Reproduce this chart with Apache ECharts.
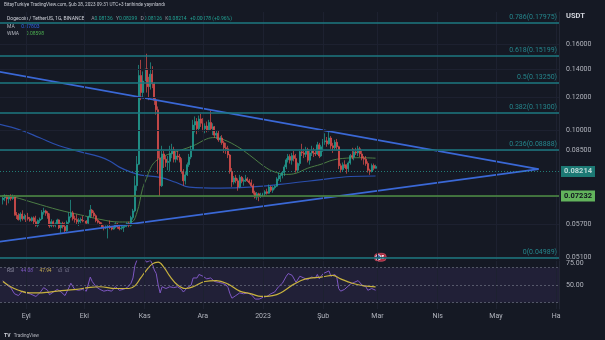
<!DOCTYPE html>
<html>
<head>
<meta charset="utf-8">
<script src="https://cdn.jsdelivr.net/npm/echarts@6/dist/echarts.min.js"></script>
<style>
  html, body { margin: 0; padding: 0; background: #151924; }
  #c { width: 605px; height: 340px; }
</style>
</head>
<body>
<div id="c"></div>
<script>
// DOGE / USDT daily candles, 20 Aug 2022 .. 28 Feb 2023 (one entry per day)
const firstDay = '2022-08-20';
const opens = [
  // Aug 20-31
  0.0685,0.0692,0.0700,0.0688,0.0696,0.0690,0.0697,0.0633,0.0630,0.0615,0.0634,0.0618,
  // Sep
  0.0626,0.0623,0.0618,0.0612,0.0621,0.0608,0.0596,0.0612,0.0617,0.0640,0.0645,0.0637,0.0626,0.0594,0.0608,
  0.0596,0.0601,0.0614,0.0588,0.0603,0.0592,0.0579,0.0606,0.0625,0.0638,0.0618,0.0615,0.0608,0.0614,0.0615,
  // Oct
  0.0612,0.0610,0.0603,0.0624,0.0648,0.0638,0.0628,0.0612,0.0606,0.0600,0.0590,0.0588,0.0591,0.0593,0.0589,
  0.0584,0.0590,0.0601,0.0591,0.0585,0.0587,0.0592,0.0596,0.0602,0.0596,0.0622,0.0645,0.0740,0.0832,0.1350,0.1230,
  // Nov
  0.1310,0.1400,0.1290,0.1270,0.1360,0.1290,0.1180,0.1120,0.0860,0.0740,0.0880,0.0855,0.0840,0.0845,0.0880,
  0.0900,0.0855,0.0870,0.0865,0.0850,0.0800,0.0760,0.0785,0.0830,0.0865,0.0900,0.1030,0.1050,0.1010,0.1065,
  // Dec
  0.1040,0.1010,0.1025,0.1000,0.1045,0.1010,0.1020,0.0975,0.0985,0.0950,0.0960,0.0935,0.0910,0.0905,0.0875,
  0.0800,0.0755,0.0772,0.0760,0.0735,0.0775,0.0758,0.0762,0.0768,0.0760,0.0752,0.0740,0.0712,0.0695,0.0708,0.0700,
  // Jan
  0.0702,0.0708,0.0716,0.0710,0.0735,0.0722,0.0732,0.0738,0.0768,0.0778,0.0782,0.0795,0.0820,0.0852,0.0868,
  0.0850,0.0872,0.0858,0.0805,0.0835,0.0890,0.0885,0.0878,0.0900,0.0850,0.0885,0.0895,0.0885,0.0880,0.0925,0.0870,
  // Feb
  0.0915,0.0940,0.0945,0.0930,0.0960,0.0920,0.0910,0.0938,0.0915,0.0825,0.0808,0.0830,0.0825,0.0812,
  0.0838,0.0872,0.0865,0.0890,0.0885,0.0905,0.0880,0.0860,0.0855,0.0835,0.0805,0.0800,0.0826,0.08136
];
const highs = [
  0.0702,0.0706,0.0704,0.0703,0.0706,0.0705,0.0702,0.0641,0.0637,0.0640,0.0647,0.0635,
  0.0631,0.0638,0.0624,0.0625,0.0626,0.0628,0.0616,0.0622,0.0648,0.0656,0.0649,0.0644,0.0636,0.0616,0.0612,
  0.0606,0.0618,0.0616,0.0605,0.0608,0.0606,0.0612,0.0640,0.0685,0.0645,0.0628,0.0633,0.0620,0.0622,0.0627,
  0.0616,0.0613,0.0628,0.0666,0.0652,0.0646,0.0633,0.0617,0.0610,0.0606,0.0596,0.0596,0.0598,0.0612,0.0592,
  0.0594,0.0606,0.0604,0.0594,0.0596,0.0594,0.0600,0.0606,0.0608,0.0628,0.0652,0.0780,0.0870,0.1430,0.1470,0.1380,
  0.1595,0.1520,0.1340,0.1450,0.1420,0.1300,0.1200,0.1140,0.0895,0.0920,0.0900,0.0870,0.0870,0.0920,0.0930,
  0.0915,0.0890,0.0900,0.0880,0.0860,0.0810,0.0800,0.0840,0.0880,0.0920,0.1060,0.1080,0.1070,0.1085,0.1095,
  0.1070,0.1040,0.1050,0.1060,0.1115,0.1040,0.1025,0.1000,0.1000,0.0970,0.0975,0.0945,0.0935,0.0920,0.0880,
  0.0815,0.0780,0.0785,0.0770,0.0785,0.0780,0.0770,0.0785,0.0775,0.0768,0.0765,0.0748,0.0720,0.0715,0.0712,0.0712,
  0.0712,0.0722,0.0728,0.0745,0.0740,0.0738,0.0742,0.0775,0.0795,0.0790,0.0800,0.0830,0.0860,0.0880,0.0878,
  0.0885,0.0895,0.0880,0.0840,0.0900,0.0930,0.0905,0.0915,0.0910,0.0895,0.0920,0.0910,0.0900,0.0940,0.0935,0.0925,
  0.0955,0.0985,0.0965,0.1000,0.0970,0.0935,0.0950,0.0955,0.0920,0.0835,0.0840,0.0850,0.0832,0.0845,
  0.0880,0.0910,0.0905,0.0910,0.0920,0.0915,0.0895,0.0870,0.0870,0.0845,0.0812,0.0835,0.0835,0.08299
];
const lows = [
  0.0668,0.0680,0.0665,0.0672,0.0682,0.0685,0.0628,0.0617,0.0612,0.0608,0.0612,0.0615,
  0.0607,0.0612,0.0608,0.0608,0.0600,0.0592,0.0590,0.0604,0.0614,0.0632,0.0628,0.0618,0.0588,0.0590,0.0590,
  0.0590,0.0598,0.0584,0.0572,0.0586,0.0574,0.0576,0.0598,0.0620,0.0612,0.0605,0.0600,0.0594,0.0603,0.0606,
  0.0604,0.0598,0.0600,0.0620,0.0625,0.0622,0.0606,0.0602,0.0596,0.0586,0.0580,0.0584,0.0555,0.0584,0.0580,
  0.0582,0.0587,0.0585,0.0580,0.0582,0.0575,0.0588,0.0590,0.0590,0.0592,0.0615,0.0640,0.0720,0.0828,0.1180,0.1200,
  0.1280,0.1230,0.1180,0.1250,0.1260,0.1150,0.1090,0.0790,0.0700,0.0735,0.0815,0.0820,0.0805,0.0800,0.0860,
  0.0840,0.0840,0.0850,0.0840,0.0790,0.0740,0.0745,0.0780,0.0820,0.0855,0.0895,0.0990,0.0980,0.0995,0.1020,
  0.0995,0.0985,0.0990,0.0995,0.1000,0.0975,0.0960,0.0955,0.0940,0.0935,0.0925,0.0885,0.0880,0.0860,0.0790,
  0.0735,0.0745,0.0750,0.0720,0.0730,0.0750,0.0740,0.0755,0.0755,0.0745,0.0735,0.0705,0.0690,0.0685,0.0680,0.0692,
  0.0695,0.0700,0.0705,0.0708,0.0715,0.0712,0.0725,0.0735,0.0760,0.0755,0.0770,0.0780,0.0810,0.0840,0.0835,
  0.0830,0.0845,0.0795,0.0800,0.0825,0.0870,0.0860,0.0865,0.0840,0.0830,0.0870,0.0865,0.0870,0.0875,0.0860,0.0865,
  0.0890,0.0925,0.0915,0.0925,0.0905,0.0885,0.0900,0.0900,0.0810,0.0795,0.0800,0.0815,0.0790,0.0800,
  0.0830,0.0855,0.0850,0.0875,0.0870,0.0865,0.0850,0.0830,0.0825,0.0795,0.0785,0.0795,0.0805,0.08126
];
const closes = [
  0.0692,0.0700,0.0688,0.0696,0.0690,0.0697,0.0633,0.0630,0.0615,0.0634,0.0618,0.0626,
  0.0623,0.0618,0.0612,0.0621,0.0608,0.0596,0.0612,0.0617,0.0640,0.0645,0.0637,0.0626,0.0594,0.0608,0.0596,
  0.0601,0.0614,0.0588,0.0603,0.0592,0.0579,0.0606,0.0625,0.0638,0.0618,0.0615,0.0608,0.0614,0.0615,0.0612,
  0.0610,0.0603,0.0624,0.0648,0.0638,0.0628,0.0612,0.0606,0.0600,0.0590,0.0588,0.0591,0.0593,0.0589,0.0584,
  0.0590,0.0601,0.0591,0.0585,0.0587,0.0592,0.0596,0.0602,0.0596,0.0622,0.0645,0.0740,0.0832,0.1350,0.1230,0.1310,
  0.1400,0.1290,0.1270,0.1360,0.1290,0.1180,0.1120,0.0860,0.0740,0.0880,0.0855,0.0840,0.0845,0.0880,0.0900,
  0.0855,0.0870,0.0865,0.0850,0.0800,0.0760,0.0785,0.0830,0.0865,0.0900,0.1030,0.1050,0.1010,0.1065,0.1040,
  0.1010,0.1025,0.1000,0.1045,0.1010,0.1020,0.0975,0.0985,0.0950,0.0960,0.0935,0.0910,0.0905,0.0875,0.0800,
  0.0755,0.0772,0.0760,0.0735,0.0775,0.0758,0.0762,0.0768,0.0760,0.0752,0.0740,0.0712,0.0695,0.0708,0.0700,0.0702,
  0.0708,0.0716,0.0710,0.0735,0.0722,0.0732,0.0738,0.0768,0.0778,0.0782,0.0795,0.0820,0.0852,0.0868,0.0850,
  0.0872,0.0858,0.0805,0.0835,0.0890,0.0885,0.0878,0.0900,0.0850,0.0885,0.0895,0.0885,0.0880,0.0925,0.0870,0.0915,
  0.0940,0.0945,0.0930,0.0960,0.0920,0.0910,0.0938,0.0915,0.0825,0.0808,0.0830,0.0825,0.0812,0.0838,
  0.0872,0.0865,0.0890,0.0885,0.0905,0.0880,0.0860,0.0855,0.0835,0.0805,0.0800,0.0826,0.08136,0.08214
];

// Moving averages on the price pane
const maLine = [
  ['2022-08-18',0.1035],['2022-08-29',0.1003],['2022-09-08',0.0961],['2022-09-18',0.0920],
  ['2022-09-29',0.0890],['2022-10-09',0.0866],['2022-10-14',0.0847],['2022-10-19',0.0819],
  ['2022-10-25',0.0797],['2022-10-30',0.0784],['2022-11-09',0.0774],['2022-11-17',0.0754],
  ['2022-11-24',0.0734],['2022-12-10',0.0730],['2022-12-25',0.0734],['2023-01-15',0.0750],
  ['2023-01-31',0.0765],['2023-02-15',0.0778],['2023-02-28',0.07803]
];
const wmaLine = [
  ['2022-08-20',0.0702],['2022-08-26',0.0695],['2022-09-05',0.0674],['2022-09-18',0.0648],
  ['2022-09-29',0.0631],['2022-10-09',0.0616],['2022-10-19',0.0607],['2022-10-25',0.0607],
  ['2022-10-28',0.0638],['2022-10-31',0.0730],['2022-11-02',0.0770],['2022-11-04',0.0813],
  ['2022-11-06',0.0840],['2022-11-09',0.0860],['2022-11-14',0.0881],['2022-11-26',0.0920],
  ['2022-12-03',0.0955],['2022-12-07',0.0962],['2022-12-12',0.0950],['2022-12-19',0.0915],
  ['2022-12-25',0.0875],['2023-01-03',0.0814],['2023-01-08',0.0795],['2023-01-13',0.0787],
  ['2023-01-18',0.0792],['2023-01-24',0.0814],['2023-01-31',0.0832],['2023-02-06',0.0851],
  ['2023-02-13',0.0860],['2023-02-20',0.0862],['2023-02-28',0.08598]
];

// Symmetrical triangle trendlines
const upperTrend = [['2022-08-18',0.1378],['2023-05-23',0.0810]];
const lowerTrend = [['2022-08-18',0.0545],['2023-05-23',0.0810]];

// Fibonacci retracement levels and the horizontal support
const fibRatios = ['0.786','0.618','0.5','0.382','0.236','0'];
const fibPrices = [0.17975,0.15199,0.13250,0.11300,0.08888,0.04989];
const supportLevel = 0.07232;

// Axis ticks
const priceTicks = [0.16,0.14,0.12,0.10,0.085,0.075,0.065,0.057,0.051];
const rsiTicks = [50,75];
const monthStarts = ['2022-09-01','2022-10-01','2022-11-01','2022-12-01','2023-01-01',
                     '2023-02-01','2023-03-01','2023-04-01','2023-05-01','2023-06-01'];
const monthNames = ['Eyl','Eki','Kas','Ara','2023','Şub','Mar','Nis','May','Ha'];

// RSI (14) and its moving average
const rsiLine = [
  ['2022-08-20',55],['2022-08-22',50],['2022-08-24',47],['2022-08-26',40],['2022-08-28',38],
  ['2022-08-30',43],['2022-09-01',41],['2022-09-03',40],['2022-09-06',37],['2022-09-08',41],
  ['2022-09-10',47],['2022-09-12',44],['2022-09-13',39],['2022-09-15',42],['2022-09-17',45],
  ['2022-09-19',42],['2022-09-21',38],['2022-09-23',47],['2022-09-24',52],['2022-09-26',45],
  ['2022-09-28',44],['2022-09-30',45],['2022-10-02',43],['2022-10-04',59],['2022-10-05',54],
  ['2022-10-07',48],['2022-10-09',45],['2022-10-11',43],['2022-10-13',44],['2022-10-15',43],
  ['2022-10-17',48],['2022-10-19',44],['2022-10-21',45],['2022-10-23',47],['2022-10-25',52],
  ['2022-10-26',58],['2022-10-27',72],['2022-10-28',78],['2022-10-29',84],['2022-10-30',79],
  ['2022-11-01',80],['2022-11-02',76],['2022-11-04',78],['2022-11-05',74],['2022-11-06',67],
  ['2022-11-07',63],['2022-11-08',50],['2022-11-09',41],['2022-11-10',48],['2022-11-12',46],
  ['2022-11-14',48],['2022-11-16',47],['2022-11-18',48],['2022-11-20',45],['2022-11-21',42],
  ['2022-11-23',47],['2022-11-25',50],['2022-11-26',58],['2022-11-28',58],['2022-11-29',62],
  ['2022-12-01',60],['2022-12-03',57],['2022-12-05',58],['2022-12-07',54],['2022-12-09',53],
  ['2022-12-11',52],['2022-12-13',50],['2022-12-14',47],['2022-12-15',40],['2022-12-16',35],
  ['2022-12-18',38],['2022-12-20',41],['2022-12-22',40],['2022-12-24',41],['2022-12-26',39],
  ['2022-12-28',34],['2022-12-30',34],['2023-01-01',36],['2023-01-03',37],['2023-01-05',40],
  ['2023-01-07',42],['2023-01-09',48],['2023-01-11',52],['2023-01-13',60],['2023-01-14',63],
  ['2023-01-16',61],['2023-01-18',53],['2023-01-20',60],['2023-01-22',58],['2023-01-24',56],
  ['2023-01-26',59],['2023-01-28',58],['2023-01-29',62],['2023-01-30',57],['2023-02-01',63],
  ['2023-02-02',64],['2023-02-04',66],['2023-02-05',60],['2023-02-07',62],['2023-02-08',59],
  ['2023-02-09',46],['2023-02-10',43],['2023-02-12',45],['2023-02-13',43],['2023-02-15',51],
  ['2023-02-17',53],['2023-02-19',55],['2023-02-21',50],['2023-02-23',48],['2023-02-24',44],
  ['2023-02-25',43],['2023-02-26',46],['2023-02-28',44.08]
];
const rsiMaLine = [
  ['2022-08-20',54],['2022-08-24',48],['2022-08-28',44],['2022-09-03',41],['2022-09-07',41],
  ['2022-09-13',42],['2022-09-21',44],['2022-09-27',45],['2022-10-03',47],['2022-10-09',48],
  ['2022-10-17',46],['2022-10-24',46],['2022-10-27',49],['2022-10-30',58],['2022-11-02',67],
  ['2022-11-05',74],['2022-11-08',76],['2022-11-11',70],['2022-11-14',60],['2022-11-18',50],
  ['2022-11-22',46],['2022-11-26',48],['2022-12-02',54],['2022-12-08',55],['2022-12-14',51],
  ['2022-12-20',43],['2022-12-26',40],['2022-12-31',37],['2023-01-06',38],['2023-01-10',41],
  ['2023-01-17',51],['2023-01-23',57],['2023-01-31',59],['2023-02-06',61],['2023-02-10',57],
  ['2023-02-16',52],['2023-02-22',49],['2023-02-28',47.94]
];

// ---------------------------------------------------------------------------
const DAY = 86400000;
const toTime = s => { const p = s.split('-').map(Number); return Date.UTC(p[0], p[1] - 1, p[2]); };
const t0 = toTime(firstDay);
const candleData = closes.map((c, i) => [t0 + i * DAY, opens[i], c, lows[i], highs[i]]);
const pairs = arr => arr.map(p => [toTime(p[0]), p[1]]);
const monthTimes = monthStarts.map(toTime);
const xMin = Date.UTC(2022, 7, 18, 12);
const xMax = Date.UTC(2023, 5, 2, 12);

const UP = '#22a193', DOWN = '#e0504e';
const FIB = '#1c7880', GRID = '#1d2130', TXT = '#b2b5be';
const FONT = 'Roboto, "Noto Sans", sans-serif';

const last = closes.length - 1;
const lastClose = closes[last];
const change = lastClose - closes[last - 1];
const changePct = change / closes[last - 1] * 100;
const valColor = lastClose >= opens[last] ? UP : DOWN;
const sign = v => (v >= 0 ? '+' : '');

// price pane: horizontal grid lines with the price scale, month grid lines, fibonacci levels
const refLines = [];
priceTicks.forEach(v => refLines.push({
  yAxis: v,
  lineStyle: { color: GRID, width: 1, type: 'solid' },
  label: { show: true, position: 'end', distance: 7, formatter: v.toFixed(5),
           color: TXT, fontSize: 7, fontFamily: FONT }
}));
monthTimes.forEach(t => refLines.push({
  xAxis: t, lineStyle: { color: GRID, width: 1, type: 'solid' }, label: { show: false }
}));
fibPrices.forEach((v, i) => refLines.push({
  yAxis: v,
  lineStyle: { color: FIB, width: 1.6, type: 'solid' },
  label: { show: true, position: 'insideEndTop', distance: [2, 2],
           formatter: fibRatios[i] + '(' + v.toFixed(5) + ')',
           color: '#25868c', fontSize: 7, fontFamily: FONT }
}));

// RSI pane: month grid lines carrying the time scale, plus the RSI scale labels
const monthLines = monthTimes.map((t, i) => ({
  xAxis: t,
  lineStyle: { color: GRID, width: 1, type: 'solid' },
  label: { show: true, position: 'start', distance: 4, formatter: monthNames[i],
           color: TXT, fontSize: 7, fontFamily: FONT }
}));
const rsiScale = rsiTicks.map(v => ({
  yAxis: v, lineStyle: { color: 'rgba(0,0,0,0)', width: 0 },
  label: { show: true, position: 'end', distance: 7, formatter: v.toFixed(2),
           color: TXT, fontSize: 7, fontFamily: FONT }
}));

const option = {
  backgroundColor: '#151924',
  animation: false,
  grid: [
    { left: 0, right: 46, top: 12, height: 248 },
    { left: 0, right: 46, top: 261, height: 48 }
  ],
  xAxis: [
    { type: 'time', gridIndex: 0, min: xMin, max: xMax, axisLine: { show: false },
      axisTick: { show: false }, axisLabel: { show: false }, splitLine: { show: false } },
    { type: 'time', gridIndex: 1, min: xMin, max: xMax, axisLine: { show: false },
      axisTick: { show: false }, axisLabel: { show: false }, splitLine: { show: false } }
  ],
  yAxis: [
    { type: 'log', gridIndex: 0, position: 'right', min: 0.04934, max: 0.19087,
      axisLine: { show: true, lineStyle: { color: '#232735' } },
      axisTick: { show: false }, axisLabel: { show: false }, splitLine: { show: false } },
    { type: 'value', gridIndex: 1, position: 'right', min: 22.73, max: 77.27,
      axisLine: { show: true, lineStyle: { color: '#232735' } },
      axisTick: { show: false }, axisLabel: { show: false }, splitLine: { show: false } }
  ],
  series: [
    { type: 'line', xAxisIndex: 0, yAxisIndex: 0, data: [], z: 1, silent: true,
      markLine: { symbol: ['none', 'none'], silent: true, animation: false, data: refLines } },
    { type: 'line', xAxisIndex: 1, yAxisIndex: 1, data: [], z: 1, silent: true,
      markLine: { symbol: ['none', 'none'], silent: true, animation: false,
                  data: monthLines.concat(rsiScale) } },
    { type: 'line', name: 'MA', xAxisIndex: 0, yAxisIndex: 0, data: pairs(maLine),
      showSymbol: false, smooth: 0.4, z: 2, silent: true, lineStyle: { color: '#2b4fae', width: 1.2 } },
    { type: 'line', name: 'WMA', xAxisIndex: 0, yAxisIndex: 0, data: pairs(wmaLine),
      showSymbol: false, smooth: 0.4, z: 2, silent: true, lineStyle: { color: '#4c7d45', width: 1 } },
    { type: 'line', xAxisIndex: 0, yAxisIndex: 0, data: pairs(upperTrend),
      showSymbol: false, z: 4, silent: true, lineStyle: { color: '#3a68d6', width: 1.6 } },
    { type: 'line', xAxisIndex: 0, yAxisIndex: 0, data: pairs(lowerTrend),
      showSymbol: false, z: 4, silent: true, lineStyle: { color: '#3a68d6', width: 1.6 } },
    { type: 'candlestick', name: 'DOGEUSDT', xAxisIndex: 0, yAxisIndex: 0,
      data: candleData, encode: { x: 0, y: [1, 2, 3, 4] }, barWidth: 1.5, z: 3,
      itemStyle: { color: UP, color0: DOWN, borderColor: UP, borderColor0: DOWN, borderWidth: 0.7 },
      markLine: {
        symbol: ['none', 'none'], silent: true, animation: false,
        data: [
          { yAxis: supportLevel,
            lineStyle: { color: '#4f8f44', width: 1.6, type: 'solid' },
            label: { show: true, position: 'end', distance: 2, formatter: supportLevel.toFixed(5),
                     backgroundColor: '#62b35c', color: '#11151f', padding: [2, 3, 1, 3],
                     fontSize: 7.5, fontWeight: 'bold', fontFamily: FONT } },
          { yAxis: lastClose,
            lineStyle: { color: '#26a69a', width: 1, type: [1, 2], opacity: 0.7 },
            label: { show: true, position: 'end', distance: 2, formatter: lastClose.toFixed(5),
                     backgroundColor: '#1fa297', color: '#ffffff', padding: [2, 3, 1, 3],
                     fontSize: 7.5, fontWeight: 'bold', fontFamily: FONT } }
        ]
      }
    },
    { type: 'line', name: 'RSI', xAxisIndex: 1, yAxisIndex: 1, data: pairs(rsiLine),
      showSymbol: false, z: 3, silent: true, lineStyle: { color: '#7e57c2', width: 1 },
      markArea: { silent: true, itemStyle: { color: 'rgba(126,87,194,0.12)' },
                  data: [[{ yAxis: 30 }, { yAxis: 70 }]] },
      markLine: { symbol: ['none', 'none'], silent: true, animation: false, label: { show: false },
                  lineStyle: { color: 'rgba(130,134,150,0.55)', type: [2, 2], width: 1 },
                  data: [{ yAxis: 70 }, { yAxis: 50 }, { yAxis: 30 }] } },
    { type: 'line', name: 'RSI MA', xAxisIndex: 1, yAxisIndex: 1, data: pairs(rsiMaLine),
      showSymbol: false, smooth: 0.4, z: 4, silent: true, lineStyle: { color: '#c8b23e', width: 1.2 } }
  ],
  graphic: [
    { type: 'text', left: 4, top: 2, silent: true,
      style: { text: 'BitayTurkiye TradingView.com, Şub 28, 2023 09:31 UTC+3 tarihinde yayınlandı',
               fill: '#c9ccd4', font: '4.7px ' + FONT } },
    { type: 'text', left: 7, top: 13, silent: true,
      style: {
        text: '{t|Dogecoin / TetherUS, 1G, BINANCE}  {l|A}{v|' + opens[last].toFixed(5) +
              '} {l|Y}{v|' + highs[last].toFixed(5) + '} {l|D}{v|' + lows[last].toFixed(5) +
              '} {l|K}{v|' + lastClose.toFixed(5) + '} {v|' + sign(change) + change.toFixed(5) +
              ' (' + sign(changePct) + changePct.toFixed(2) + '%)}',
        rich: {
          t: { fill: '#d1d4dc', fontSize: 5, fontFamily: FONT },
          l: { fill: '#9598a1', fontSize: 5, fontFamily: FONT },
          v: { fill: valColor, fontSize: 5, fontFamily: FONT }
        }
      } },
    { type: 'text', left: 7, top: 20.5, silent: true,
      style: { text: '{l|MA}  {v|' + maLine[maLine.length - 1][1].toFixed(5) + '}',
               rich: { l: { fill: '#b2b5be', fontSize: 5, fontFamily: FONT },
                       v: { fill: '#2f63e6', fontSize: 5, fontFamily: FONT } } } },
    { type: 'text', left: 7, top: 28, silent: true,
      style: { text: '{l|WMA}  {v|' + wmaLine[wmaLine.length - 1][1].toFixed(5) + '}',
               rich: { l: { fill: '#b2b5be', fontSize: 5, fontFamily: FONT },
                       v: { fill: '#4caf50', fontSize: 5, fontFamily: FONT } } } },
    { type: 'text', left: 566, top: 12, silent: true,
      style: { text: 'USDT', fill: '#d1d4dc', font: 'bold 7.5px ' + FONT } },
    { type: 'text', left: 7, top: 265, silent: true,
      style: { text: '{l|RSI}  {p|' + rsiLine[rsiLine.length - 1][1].toFixed(2) + '}  {y|' +
                     rsiMaLine[rsiMaLine.length - 1][1].toFixed(2) + '}  {l|∅  ∅}',
               rich: { l: { fill: '#9598a1', fontSize: 4.8, fontFamily: FONT },
                       p: { fill: '#7e57c2', fontSize: 4.8, fontFamily: FONT },
                       y: { fill: '#d1b93f', fontSize: 4.8, fontFamily: FONT } } } },
    { type: 'group', left: 374, top: 253, silent: true, children: [
        { type: 'rect', shape: { x: 0, y: 0, width: 12, height: 8, r: 4 },
          style: { fill: '#a8283f', stroke: '#d45a6c', lineWidth: 0.6 } },
        { type: 'circle', shape: { cx: 4, cy: 4, r: 2.6 },
          style: { fill: '#3d5ca8', stroke: '#ffffff', lineWidth: 0.8 } },
        { type: 'text', style: { x: 7.2, y: 1.6, text: 'E', fill: '#ffffff', font: 'bold 4.5px ' + FONT } }
    ] },
    { type: 'text', left: 4, top: 330, silent: true,
      style: { text: '{b|TV} {t|TradingView}',
               rich: { b: { fill: '#d1d4dc', fontSize: 5, fontWeight: 'bold', fontFamily: FONT },
                       t: { fill: '#b2b5be', fontSize: 4.6, fontFamily: FONT } } } }
  ]
};

const chart = echarts.init(document.getElementById('c'), null, { renderer: 'canvas', width: 605, height: 340 });
chart.setOption(option);
</script>
</body>
</html>
